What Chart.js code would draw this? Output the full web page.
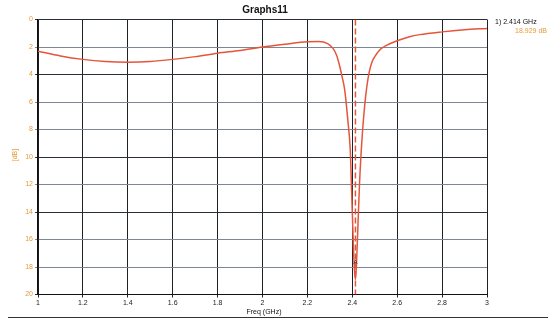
<!DOCTYPE html>
<html>
<head>
<meta charset="utf-8">
<script src="https://cdn.jsdelivr.net/npm/chart.js@4/dist/chart.umd.min.js"></script>
<style>
  html, body { margin: 0; padding: 0; background: #fff; }
  #wrap { width: 555px; height: 322px; position: relative; }
</style>
</head>
<body>
<div id="wrap"><canvas id="s11Chart"></canvas></div>
<script>
// datos (frecuencia en GHz, S11 en dB)
const freqs = [1.0, 1.1, 1.2, 1.3, 1.4, 1.5, 1.6, 1.7, 1.8, 1.9, 2.0, 2.1, 2.2, 2.25, 2.29,
    2.314, 2.33, 2.344, 2.355, 2.366, 2.38, 2.391, 2.398, 2.405, 2.41, 2.414, 2.418, 2.424, 2.432,
    2.44, 2.45, 2.46, 2.47, 2.48, 2.49, 2.5, 2.52, 2.55, 2.6, 2.655, 2.7, 2.8, 2.9, 3.0];
const s11 = [2.3, 2.65, 2.9, 3.05, 3.1, 3.05, 2.9, 2.7, 2.45, 2.25, 2.0, 1.8, 1.62, 1.6, 1.75,
    2.1, 2.6, 3.4, 4.2, 5.1, 7.3, 9.5, 13, 16.5, 18.3, 18.9, 18.0, 15.5, 12,
    9.5, 7.2, 5.5, 4.3, 3.5, 3.0, 2.7, 2.25, 1.9, 1.55, 1.25, 1.1, 0.9, 0.75, 0.65];

const markerFreq = 2.414;
const markerLabel = '1) 2.414 GHz';
const markerValue = '18.929 dB';

const xTicks = [1, 1.2, 1.4, 1.6, 1.8, 2, 2.2, 2.4, 2.6, 2.8, 3];
const yTicks = [0, 2, 4, 6, 8, 10, 12, 14, 16, 18, 20];
const darkRows = [0, 4, 10, 14, 20];

const curveData = freqs.map((f, i) => ({ x: f, y: s11[i] }));

// textos extra: titulo, ejes, marcador
const textos = {
    id: 'textos',
    afterDraw(chart) {
        const c = chart.ctx;
        const xs = chart.scales.x;
        c.save();
        c.textBaseline = 'middle';

        c.fillStyle = '#111';
        c.font = 'bold 10px "Liberation Sans", Arial, sans-serif';
        c.textAlign = 'center';
        c.fillText('Graphs11', 265, 10);

        c.font = '7px "Liberation Sans", Arial, sans-serif';
        c.fillText('Freq (GHz)', 264, 312);

        c.textAlign = 'left';
        c.fillText(markerLabel, 495, 22);
        c.fillStyle = '#e89a3a';
        c.textAlign = 'right';
        c.fillText(markerValue, 547, 31);

        // A del marcador
        c.fillStyle = '#222';
        c.textAlign = 'center';
        c.font = '6px "Liberation Sans", Arial, sans-serif';
        c.fillText('A', xs.getPixelForValue(markerFreq), 262);

        // [dB] rotado
        c.translate(15, 155);
        c.rotate(-Math.PI / 2);
        c.fillStyle = '#e89a3a';
        c.font = '7px "Liberation Sans", Arial, sans-serif';
        c.fillText('[dB]', 0, 0);
        c.restore();

        // linea de abajo
        c.save();
        c.strokeStyle = '#333';
        c.lineWidth = 1;
        c.beginPath();
        c.moveTo(8, 317.5);
        c.lineTo(548, 317.5);
        c.stroke();
        c.restore();
    }
};

const config = {
    type: 'line',
    data: {
        datasets: [
            {
                label: 'S11',
                data: curveData,
                borderColor: '#e4553a',
                borderWidth: 1.5,
                pointRadius: 0,
                cubicInterpolationMode: 'monotone',
                fill: false
            },
            {
                label: 'marker',
                data: [{ x: markerFreq, y: yTicks[0] }, { x: markerFreq, y: yTicks[yTicks.length - 1] }],
                borderColor: '#e4553a',
                borderWidth: 1.5,
                borderDash: [6, 3],
                pointRadius: 0,
                fill: false
            }
        ]
    },
    options: {
        responsive: true,
        maintainAspectRatio: false,
        animation: false,
        layout: { padding: { left: 0, top: 19.5, right: 68, bottom: 0 } },
        plugins: {
            legend: { display: false },
            title: { display: false },
            tooltip: { enabled: false }
        },
        scales: {
            x: {
                type: 'linear',
                min: xTicks[0],
                max: xTicks[xTicks.length - 1],
                afterFit: (scale) => { scale.height = 27.5; },
                afterBuildTicks: (scale) => { scale.ticks = xTicks.map(v => ({ value: v })); },
                ticks: {
                    color: '#222',
                    font: { size: 7, family: '"Liberation Sans", Arial, sans-serif' },
                    padding: 1,
                    maxRotation: 0,
                    callback: (v) => String(v)
                },
                grid: { color: '#1e2228', lineWidth: 1, tickLength: 3 },
                border: { color: '#111', width: 1 }
            },
            y: {
                reverse: true,
                min: yTicks[0],
                max: yTicks[yTicks.length - 1],
                afterFit: (scale) => { scale.width = 38; },
                afterBuildTicks: (scale) => { scale.ticks = yTicks.map(v => ({ value: v })); },
                ticks: {
                    color: '#e89a3a',
                    font: { size: 7, family: '"Liberation Sans", Arial, sans-serif' },
                    padding: 2,
                    callback: (v) => String(v)
                },
                grid: {
                    color: (ctx) => darkRows.includes(ctx.tick && ctx.tick.value) ? '#2a3038' : '#7d8794',
                    lineWidth: 1,
                    tickLength: 3
                },
                border: { color: '#111', width: 1.5 }
            }
        }
    },
    plugins: [textos]
};

const ctx = document.getElementById('s11Chart').getContext('2d');
const s11Chart = new Chart(ctx, config);
</script>
</body>
</html>
